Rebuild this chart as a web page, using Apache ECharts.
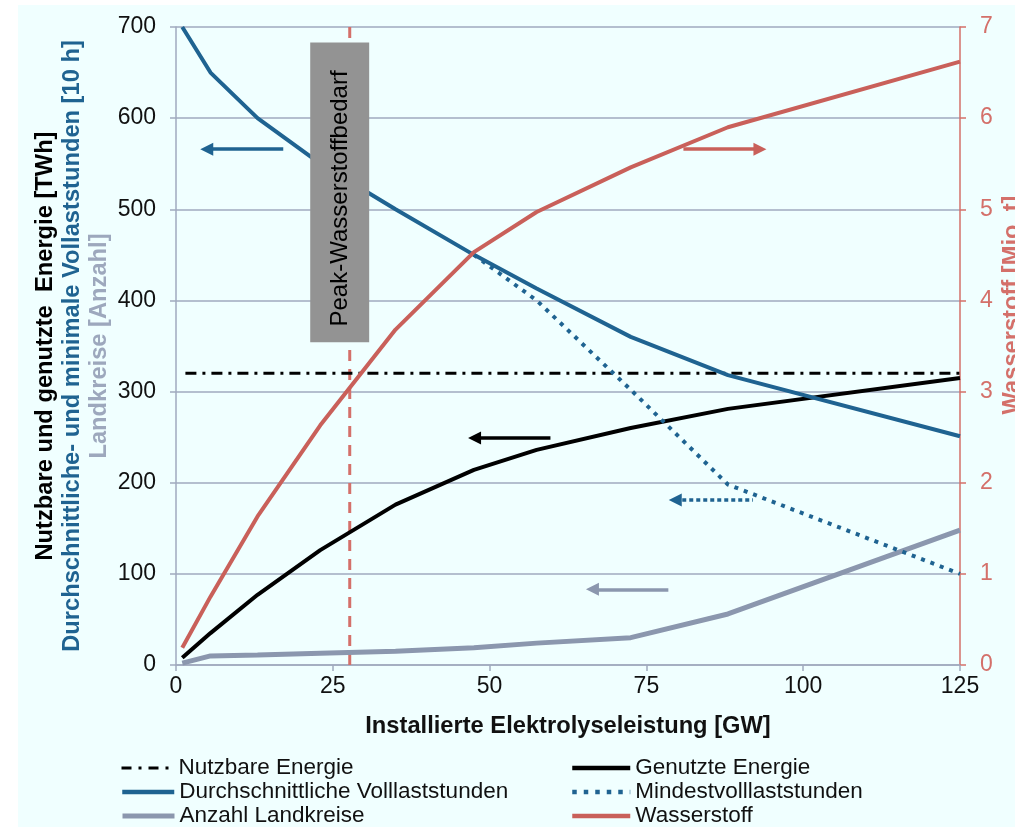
<!DOCTYPE html>
<html>
<head>
<meta charset="utf-8">
<script src="https://cdn.jsdelivr.net/npm/echarts@6/dist/echarts.min.js"></script>
<style>
html,body{margin:0;padding:0;background:#fff;}
#c{width:1015px;height:827px;}
</style>
</head>
<body>
<div id="c"></div>
<script>
// ---- data ----
const xVals        = [1, 5.5, 13, 23, 35, 47.5, 57.5, 72.5, 88, 125];       // installierte Leistung [GW]
const genutzte     = [8, 35, 77, 126, 176, 214, 236, 260, 281, 315];         // TWh
const durchschnitt = [700, 650, 600, 550, 500, 450, 413, 360, 318, 251];     // 10 h
const landkreise   = [2, 10, 11, 13, 15, 19, 24, 30, 56, 148];               // Anzahl
const wasserstoff  = [0.19, 0.75, 1.63, 2.63, 3.68, 4.53, 4.97, 5.46, 5.9, 6.62]; // Mio. t
const mindestX     = [47.5, 57.5, 72.5, 88, 125];
const mindest      = [450, 400, 302, 198, 100];
const nutzbarX     = [1.5, 125];
const nutzbar      = [320, 320];
const peakX        = 27.7;
const xTicks = [0, 25, 50, 75, 100, 125];
const yLeftTicks = [0, 100, 200, 300, 400, 500, 600, 700];
const yRightTicks = [0, 1, 2, 3, 4, 5, 6, 7];
const legendLeft  = ['Nutzbare Energie', 'Durchschnittliche Volllaststunden', 'Anzahl Landkreise'];
const legendRight = ['Genutzte Energie', 'Mindestvolllaststunden', 'Wasserstoff'];
// annotation arrows (data coords): [headCenterX, tailX, y]
const arrowBlue  = [4.9, 17.1, 566];
const arrowBlack = [47.6, 59.7, 249];
const arrowDot   = [79.6, 92.0, 181];
const arrowGrey  = [66.4, 78.5, 83];
const arrowRed   = [93.1, 80.9, 5.66];
const peakBox    = [21.4, 30.8, 683, 354];

const FONT = '"Liberation Sans", Arial, sans-serif';
const BLUE = '#1F6391', RED = '#C9605A', REDAX = '#D4706A', GREY = '#8B97AE', GRID = '#A0AABF';

const zip = (xs, ys) => xs.map((x, i) => [x, ys[i]]);
function arrowMark(a, color, type) {
  return {
    silent: true, symbol: ['triangle', 'none'], symbolSize: [13, 13],
    label: {show: false},
    lineStyle: {color: color, width: 3.5, type: type || 'solid'},
    emphasis: {disabled: true},
    data: [[{coord: [a[0], a[2]]}, {coord: [a[1], a[2]]}]]
  };
}
const legendStyles = {
  'Nutzbare Energie': {width: 3, type: [10, 7, 3, 7]},
  'Durchschnittliche Volllaststunden': {width: 4.5, type: 'solid'},
  'Anzahl Landkreise': {width: 5, type: 'solid'},
  'Genutzte Energie': {width: 4.5, type: 'solid'},
  'Mindestvolllaststunden': {width: 4.5, type: [4.5, 7]},
  'Wasserstoff': {width: 4.5, type: 'solid'}
};
function legendItem(name, left, top, w) {
  return {
    orient: 'horizontal', left: left, top: top, itemWidth: w, itemHeight: 2, padding: 0,
    selectedMode: false,
    itemStyle: {color: 'rgba(0,0,0,0)', borderColor: 'rgba(0,0,0,0)', borderWidth: 0},
    lineStyle: legendStyles[name],
    textStyle: {fontFamily: FONT, fontSize: 22.5, color: '#111', lineHeight: 24},
    data: [name]
  };
}
const legendTops = [756, 780, 804];
const legends = [];
legendLeft.forEach((n, i) => legends.push(legendItem(n, 120, legendTops[i], 52)));
legendRight.forEach((n, i) => legends.push(legendItem(n, 570, legendTops[i], 58)));

const chart = echarts.init(document.getElementById('c'));
const option = {
  animation: false,
  backgroundColor: '#fff',
  textStyle: {fontFamily: FONT},
  grid: {left: 176, right: 55, top: 27, bottom: 162, containLabel: false},
  xAxis: {
    type: 'value', min: 0, max: 125, interval: 25,
    name: 'Installierte Elektrolyseleistung [GW]', nameLocation: 'middle', nameGap: 49,
    nameTextStyle: {fontFamily: FONT, fontSize: 23.7, fontWeight: 'bold', color: '#111'},
    axisLine: {show: true, lineStyle: {color: GRID, width: 1.5}},
    axisTick: {show: true, inside: false, length: 6, lineStyle: {color: GRID, width: 1.5}},
    axisLabel: {fontFamily: FONT, fontSize: 23, color: '#111', margin: 10,
      formatter: v => xTicks.includes(v) ? String(v) : ''},
    splitLine: {show: false}
  },
  yAxis: [{
    type: 'value', min: 0, max: 700, interval: 100, position: 'left',
    axisLine: {show: true, lineStyle: {color: GRID, width: 1.5}},
    axisTick: {show: true, inside: false, length: 6, lineStyle: {color: GRID, width: 1.5}},
    axisLabel: {fontFamily: FONT, fontSize: 23, color: '#111', margin: 20,
      formatter: v => yLeftTicks.includes(v) ? String(v) : ''},
    splitLine: {show: true, lineStyle: {color: GRID, width: 1.5}}
  }, {
    type: 'value', min: 0, max: 7, interval: 1, position: 'right',
    axisLine: {show: true, lineStyle: {color: REDAX, width: 1.5}},
    axisTick: {show: true, inside: false, length: 6, lineStyle: {color: REDAX, width: 1.5}},
    axisLabel: {fontFamily: FONT, fontSize: 23, color: REDAX, margin: 20,
      formatter: v => yRightTicks.includes(v) ? String(v) : ''},
    splitLine: {show: false}
  }],
  legend: legends,
  series: [
    {name: 'Peak', type: 'line', symbol: 'none', silent: true, z: 1,
     data: [[peakX, 0], [peakX, 700]],
     lineStyle: {color: REDAX, width: 3, type: [11, 8]}},
    {name: 'Anzahl Landkreise', type: 'line', symbol: 'none', z: 2,
     data: zip(xVals, landkreise), lineStyle: {color: GREY, width: 5}, itemStyle: {color: GREY},
     markLine: arrowMark(arrowGrey, GREY)},
    {name: 'Nutzbare Energie', type: 'line', symbol: 'none', z: 3,
     data: zip(nutzbarX, nutzbar), lineStyle: {color: '#000', width: 3, type: [11, 6, 3, 6]}, itemStyle: {color: '#000'}},
    {name: 'Genutzte Energie', type: 'line', symbol: 'none', z: 3,
     data: zip(xVals, genutzte), lineStyle: {color: '#000', width: 4}, itemStyle: {color: '#000'},
     markLine: arrowMark(arrowBlack, '#000')},
    {name: 'Mindestvolllaststunden', type: 'line', symbol: 'none', z: 3,
     data: zip(mindestX, mindest), lineStyle: {color: BLUE, width: 4, type: [4, 6]}, itemStyle: {color: BLUE},
     markLine: arrowMark(arrowDot, BLUE, [4, 3])},
    {name: 'Durchschnittliche Volllaststunden', type: 'line', symbol: 'none', z: 3,
     data: zip(xVals, durchschnitt), lineStyle: {color: BLUE, width: 4}, itemStyle: {color: BLUE},
     markLine: arrowMark(arrowBlue, BLUE)},
    {name: 'Wasserstoff', type: 'line', symbol: 'none', yAxisIndex: 1, z: 3,
     data: zip(xVals, wasserstoff), lineStyle: {color: RED, width: 4}, itemStyle: {color: RED},
     markLine: arrowMark(arrowRed, RED)}
  ]
};
chart.setOption(option);

// annotation box and titles
const p1 = chart.convertToPixel({xAxisIndex: 0, yAxisIndex: 0}, [peakBox[0], peakBox[2]]);
const p2 = chart.convertToPixel({xAxisIndex: 0, yAxisIndex: 0}, [peakBox[1], peakBox[3]]);
const midY = (chart.convertToPixel({yAxisIndex: 0}, 0) + chart.convertToPixel({yAxisIndex: 0}, 700)) / 2;
chart.setOption({
  graphic: [
    {type: 'rect', z: -100, silent: true, shape: {x: 18, y: 5, width: 1015, height: 827}, style: {fill: '#F0FFFF'}},
    {type: 'rect', z: 100, silent: true, shape: {x: p1[0], y: p1[1], width: p2[0] - p1[0], height: p2[1] - p1[1]}, style: {fill: '#939393'}},
    {type: 'text', z: 101, silent: true, x: (p1[0] + p2[0]) / 2 + 1, y: (p1[1] + p2[1]) / 2 + 6, rotation: Math.PI / 2,
     style: {text: 'Peak-Wasserstoffbedarf', font: '24px ' + FONT, fill: '#000', align: 'center', verticalAlign: 'middle'}},
    {type: 'text', silent: true, x: 45, y: midY, rotation: Math.PI / 2,
     style: {text: 'Nutzbare und genutzte  Energie [TWh]', font: 'bold 23.7px ' + FONT, fill: '#000', align: 'center', verticalAlign: 'middle'}},
    {type: 'text', silent: true, x: 72, y: midY, rotation: Math.PI / 2,
     style: {text: 'Durchschnittliche- und minimale Vollaststunden [10 h]', font: 'bold 23.7px ' + FONT, fill: BLUE, align: 'center', verticalAlign: 'middle'}},
    {type: 'text', silent: true, x: 99, y: midY, rotation: Math.PI / 2,
     style: {text: 'Landkreise [Anzahl]', font: 'bold 23.7px ' + FONT, fill: '#9DA8BD', align: 'center', verticalAlign: 'middle'}},
    {type: 'text', silent: true, x: 1012, y: 305, rotation: Math.PI / 2,
     style: {text: 'Wasserstoff [Mio. t]', font: 'bold 23.7px ' + FONT, fill: REDAX, align: 'center', verticalAlign: 'middle'}}
  ]
});
</script>
</body>
</html>
